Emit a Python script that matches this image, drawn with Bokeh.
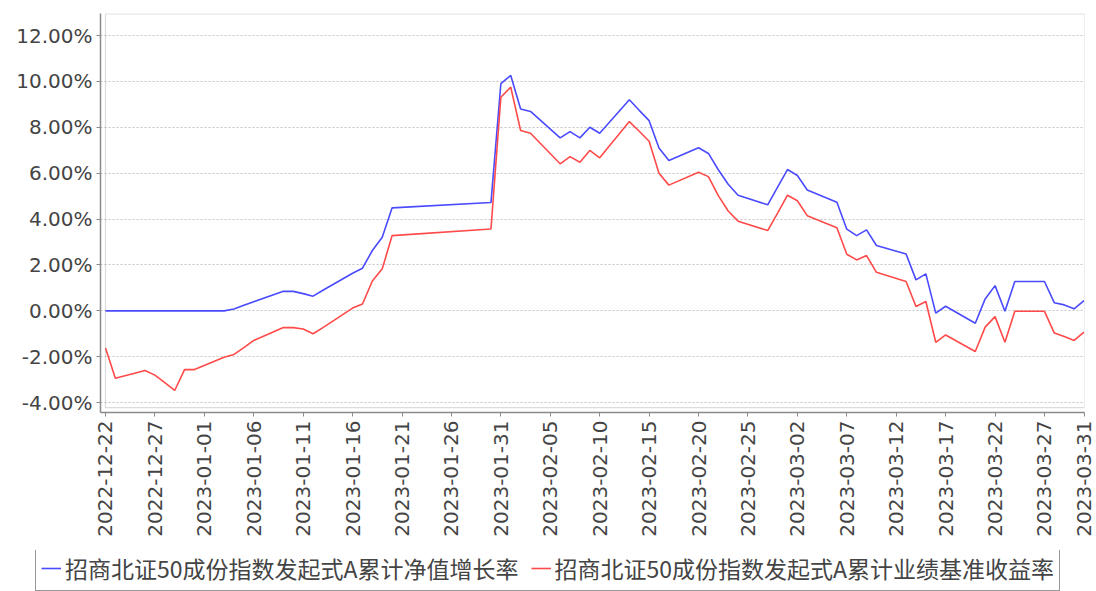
import math
import pandas as pd
from bokeh.plotting import figure
from bokeh.layouts import column
from bokeh.models import (ColumnDataSource, FixedTicker, PrintfTickFormatter,
                          DatetimeTickFormatter, Range1d, BoxAnnotation, Legend, LegendItem)
from bokeh.embed import file_html
from bokeh.resources import INLINE

# ---------------- data ----------------
dates = [
    "2022-12-22", "2022-12-23", "2022-12-26", "2022-12-27", "2022-12-28", "2022-12-29", "2022-12-30", "2022-12-31",
    "2023-01-03", "2023-01-04", "2023-01-05", "2023-01-06", "2023-01-09", "2023-01-10", "2023-01-11", "2023-01-12",
    "2023-01-13", "2023-01-16", "2023-01-17", "2023-01-18", "2023-01-19", "2023-01-20", "2023-01-30", "2023-01-31",
    "2023-02-01", "2023-02-02", "2023-02-03", "2023-02-06", "2023-02-07", "2023-02-08", "2023-02-09", "2023-02-10",
    "2023-02-13", "2023-02-14", "2023-02-15", "2023-02-16", "2023-02-17", "2023-02-20", "2023-02-21", "2023-02-22",
    "2023-02-23", "2023-02-24", "2023-02-27", "2023-02-28",
    "2023-03-01", "2023-03-02", "2023-03-03", "2023-03-06", "2023-03-07", "2023-03-08", "2023-03-09", "2023-03-10",
    "2023-03-13", "2023-03-14", "2023-03-15", "2023-03-16", "2023-03-17", "2023-03-20", "2023-03-21", "2023-03-22",
    "2023-03-23", "2023-03-24", "2023-03-27", "2023-03-28", "2023-03-29", "2023-03-30", "2023-03-31",
]

nav_growth = [
    0.00, 0.00, 0.00, 0.00, 0.00, 0.00, 0.00, 0.00,
    0.00, 0.08, 0.24, 0.40, 0.85, 0.85, 0.75, 0.64,
    0.90, 1.64, 1.86, 2.63, 3.21, 4.49, 4.72, 9.90,
    10.26, 8.80, 8.69, 7.54, 7.81, 7.54, 8.00, 7.74,
    9.20, 8.74, 8.29, 7.10, 6.55, 7.11, 6.86, 6.15,
    5.52, 5.04, 4.62, 5.39,
    6.16, 5.90, 5.27, 4.73, 3.56, 3.28, 3.53, 2.85,
    2.48, 1.35, 1.61, -0.10, 0.20, -0.54, 0.52, 1.10,
    -0.02, 1.28, 1.28, 0.35, 0.26, 0.09, 0.45,
]

benchmark = [
    -1.62, -2.94, -2.60, -2.80, -3.13, -3.47, -2.56, -2.56,
    -2.02, -1.90, -1.60, -1.29, -0.73, -0.73, -0.79, -1.00,
    -0.73, 0.12, 0.30, 1.30, 1.83, 3.28, 3.57, 9.31,
    9.75, 7.86, 7.74, 6.41, 6.72, 6.48, 6.99, 6.67,
    8.25, 7.83, 7.39, 6.00, 5.48, 6.04, 5.85, 5.02,
    4.35, 3.91, 3.50, 4.26,
    5.04, 4.80, 4.15, 3.62, 2.47, 2.22, 2.41, 1.68,
    1.28, 0.19, 0.41, -1.37, -1.05, -1.77, -0.71, -0.25,
    -1.37, -0.02, -0.02, -0.97, -1.12, -1.29, -0.93,
]

x_tick_dates = [
    "2022-12-22", "2022-12-27", "2023-01-01", "2023-01-06", "2023-01-11", "2023-01-16", "2023-01-21",
    "2023-01-26", "2023-01-31", "2023-02-05", "2023-02-10", "2023-02-15", "2023-02-20", "2023-02-25",
    "2023-03-02", "2023-03-07", "2023-03-12", "2023-03-17", "2023-03-22", "2023-03-27", "2023-03-31",
]
y_ticks = [-4, -2, 0, 2, 4, 6, 8, 10, 12]

series_names = ["招商北证50成份指数发起式A累计净值增长率", "招商北证50成份指数发起式A累计业绩基准收益率"]
series_colors = ["#4a4aff", "#ff4a4a"]

# ---------------- main plot ----------------
dt = pd.to_datetime(dates)
src = ColumnDataSource(dict(date=dt, nav=nav_growth, bench=benchmark))

t0 = pd.Timestamp(dates[0])
t1 = pd.Timestamp(dates[-1])
day = pd.Timedelta(days=1)

p = figure(width=1096, height=550, x_axis_type="datetime", output_backend="svg",
           toolbar_location=None, min_border_left=100, min_border_right=12,
           min_border_top=13, min_border_bottom=138)
p.frame_align = False
p.x_range = Range1d(start=t0 - 0.505 * day, end=t1 + 0.05 * day)
p.y_range = Range1d(start=-4.43, end=12.96)
p.outline_line_color = None
p.background_fill_color = "white"
p.border_fill_color = "white"

# inner plot frame
p.add_layout(BoxAnnotation(left=t0, right=t1 + 0.05 * day, bottom=-4.22, top=12.94,
                           fill_alpha=0, line_color="#8a8a8a", line_width=1.2))

p.xgrid.visible = False
p.ygrid.grid_line_color = "#c4c4c4"
p.ygrid.grid_line_dash = "2 2"
p.ygrid.grid_line_width = 1

r1 = p.line(x="date", y="nav", source=src, line_color=series_colors[0], line_width=1.6)
r2 = p.line(x="date", y="bench", source=src, line_color=series_colors[1], line_width=1.6)

p.yaxis.ticker = FixedTicker(ticks=y_ticks)
p.yaxis.formatter = PrintfTickFormatter(format="%.2f%%")
tick_ms = [pd.Timestamp(d).value // 10**6 for d in x_tick_dates]
p.xaxis.ticker = FixedTicker(ticks=tick_ms)
fmt = "%Y-%m-%d"
p.xaxis.formatter = DatetimeTickFormatter(days=fmt, months=fmt, years=fmt, hours=fmt,
                                          hourmin=fmt, minutes=fmt, minsec=fmt,
                                          seconds=fmt, milliseconds=fmt, microseconds=fmt)
p.xaxis.major_label_orientation = math.pi / 2

for ax in (p.xaxis[0], p.yaxis[0]):
    ax.axis_line_color = "#8a8a8a"
    ax.axis_line_width = 1.5
    ax.major_tick_line_color = "#8a8a8a"
    ax.major_tick_out = 4
    ax.major_tick_in = 0
    ax.minor_tick_line_color = None
    ax.major_label_text_font = "DejaVu Sans"
    ax.major_label_text_font_size = "20px"
    ax.major_label_text_color = "#444444"
    ax.major_label_standoff = 4

# ---------------- legend strip ----------------
lg = figure(width=1096, height=41, output_backend="svg", toolbar_location=None,
            x_axis_location=None, y_axis_location=None,
            min_border_left=0, min_border_right=0, min_border_top=0, min_border_bottom=0,
            x_range=Range1d(0, 1), y_range=Range1d(0, 1))
lg.frame_align = False
lg.grid.visible = False
lg.outline_line_color = None
lg.background_fill_color = "white"
lg.border_fill_color = "white"
# same series, drawn outside this strip's visible range; only used as legend keys
k1 = lg.line(x="date", y="nav", source=src, line_color=series_colors[0], line_width=1.6)
k2 = lg.line(x="date", y="bench", source=src, line_color=series_colors[1], line_width=1.6)

legend = Legend(items=[LegendItem(label=series_names[0], renderers=[k1]),
                       LegendItem(label=series_names[1], renderers=[k2])],
                orientation="horizontal", location=(35, 0))
legend.label_text_font = "Noto Sans CJK SC"
legend.label_text_font_size = "23px"
legend.label_text_color = "#444444"
legend.padding = 5
legend.spacing = 12
legend.margin = 0
legend.glyph_width = 20
legend.glyph_height = 24
legend.label_height = 24
legend.label_standoff = 4
legend.border_line_color = "#333333"
legend.border_line_width = 1.5
legend.background_fill_color = "white"
legend.background_fill_alpha = 1
lg.add_layout(legend, "center")

layout = column(p, lg, spacing=0)
open("out.html", "w").write(file_html(layout, INLINE))
